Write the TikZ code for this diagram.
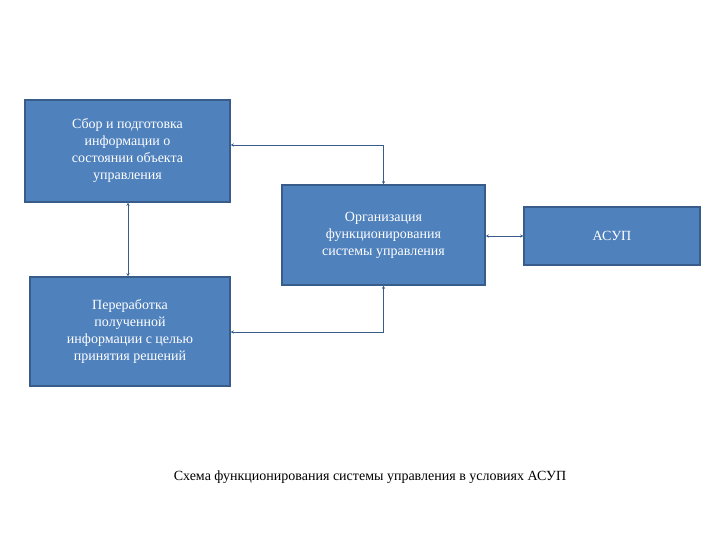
\documentclass[tikz,border=0pt]{standalone}
\usepackage{fontspec}
\setmainfont{Liberation Serif}
\usetikzlibrary{arrows.meta}
\definecolor{bfill}{HTML}{4F81BD}
\definecolor{bdraw}{HTML}{385D8A}
\begin{document}
\begin{tikzpicture}[x=1pt,y=-1pt,
  box/.style={draw=bdraw,line width=1.5pt,fill=bfill,text=white,align=center,font=\fontsize{14}{17}\selectfont,inner sep=0pt},
  conn/.style={draw=bdraw,line width=0.8pt,{Stealth[length=3pt,width=3pt]}-{Stealth[length=3pt,width=3pt]}}]
\useasboundingbox[fill=white] (0,0) rectangle (720,540);
\node[box,minimum width=205,minimum height=102] (a) at (127.5,151) {Сбор и подготовка\\информации о\\состоянии объекта\\управления};
\node[box,minimum width=203,minimum height=100] (b) at (383.5,235) {Организация\\функционирования\\системы управления};
\node[box,minimum width=176,minimum height=58] (c) at (612,236) {АСУП};
\node[box,minimum width=200,minimum height=109] (d) at (130,331.5) {Переработка\\полученной\\информации с целью\\принятия решений};
\draw[conn] (a.east|-0,145) -| (b.north);
\draw[conn] (d.east|-0,332) -| (b.south);
\draw[conn] (a.south-|128,0) -- (d.north-|128,0);
\draw[conn] (b.east|-0,236) -- (c.west|-0,236);
\node[font=\fontsize{14}{17}\selectfont] (cap) at (370,477) {Схема функционирования системы управления в условиях АСУП};
\end{tikzpicture}
\end{document}
